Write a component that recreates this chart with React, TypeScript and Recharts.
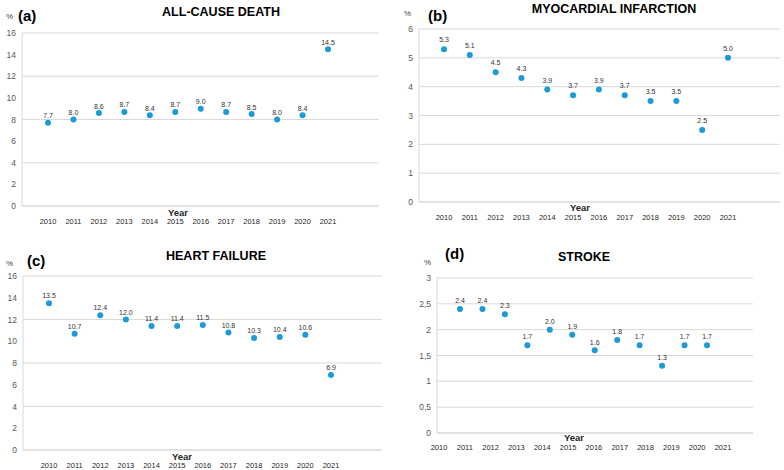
import React from 'react';
import { ScatterChart, Scatter, XAxis, YAxis, CartesianGrid, LabelList } from 'recharts';

// data
const years = [2010, 2011, 2012, 2013, 2014, 2015, 2016, 2017, 2018, 2019, 2020, 2021];
const deathVals = [7.7, 8.0, 8.6, 8.7, 8.4, 8.7, 9.0, 8.7, 8.5, 8.0, 8.4, 14.5];
const miVals = [5.3, 5.1, 4.5, 4.3, 3.9, 3.7, 3.9, 3.7, 3.5, 3.5, 2.5, 5.0];
const hfVals = [13.5, 10.7, 12.4, 12.0, 11.4, 11.4, 11.5, 10.8, 10.3, 10.4, 10.6, 6.9];
const strokeVals = [2.4, 2.4, 2.3, 1.7, 2.0, 1.9, 1.6, 1.8, 1.7, 1.3, 1.7, 1.7];

const ticks16 = [0, 2, 4, 6, 8, 10, 12, 14, 16];
const ticks6 = [0, 1, 2, 3, 4, 5, 6];
const ticks3 = [0, 0.5, 1, 1.5, 2, 2.5, 3];

const DOT = '#1a9ad7';
const GRID = '#d9d9d9';
const FONT = '"Liberation Sans", Arial, sans-serif';

const toRows = (vals: number[]) => years.map((y, i) => ({ year: y, v: vals[i] }));

interface PanelProps {
  ox: number;
  oy: number;
  vals: number[];
  title: string;
  letter: string;
  yMax: number;
  yTicks: number[];
  comma?: boolean;
  plot: { l: number; r: number; t: number; b: number };
  pad: { left: number; right: number };
  tickPad?: { left: number; right: number };
  tickMargin: number;
  labelDy: number;
  titlePos: [number, number];
  letterPos: [number, number];
  pctPos: [number, number];
  yearPos: [number, number];
}

const Dot = (props: any) => <circle cx={props.cx} cy={props.cy} r={3} fill={DOT} />;

const Panel: React.FC<PanelProps> = (p) => {
  const W = 392;
  const H = 235;
  const split = !!p.tickPad;
  const rows = toRows(p.vals);

  const valueLabel = (lp: any) => {
    const cx = lp.x + lp.width / 2;
    const cy = lp.y + lp.height / 2;
    return (
      <text x={cx} y={cy - p.labelDy} textAnchor="middle" dominantBaseline="central"
        fontSize={7} fill="#333" fontFamily={FONT}>
        {Number(lp.value).toFixed(1)}
      </text>
    );
  };

  return (
    <div style={{ position: 'absolute', left: p.ox, top: p.oy, width: W, height: H }}>
      <ScatterChart
        width={W}
        height={H}
        margin={{ top: p.plot.t, right: W - p.plot.r, bottom: 0, left: 0 }}
      >
        <CartesianGrid vertical={false} stroke={GRID} />
        {split ? (
          <XAxis xAxisId="pts" dataKey="year" type="number" domain={[2010, 2021]} padding={p.pad} height={0} hide />
        ) : null}
        <XAxis
          xAxisId={split ? 'yrs' : 'pts'}
          dataKey="year"
          type="number"
          domain={[2010, 2021]}
          ticks={years}
          interval={0}
          padding={split ? p.tickPad : p.pad}
          height={H - p.plot.b}
          axisLine={{ stroke: GRID }}
          tickLine={false}
          tickSize={0}
          tickMargin={p.tickMargin}
          tick={{ fontSize: 7.5, fill: '#262626', fontFamily: FONT }}
        />
        <YAxis
          dataKey="v"
          type="number"
          domain={[0, p.yMax]}
          ticks={p.yTicks}
          width={p.plot.l}
          axisLine={{ stroke: GRID }}
          tickLine={false}
          tickSize={0}
          tickMargin={6}
          tick={{ fontSize: 8.5, fill: '#595959', fontFamily: FONT }}
          tickFormatter={(v: number) => (p.comma ? String(v).replace('.', ',') : String(v))}
        />
        <Scatter data={rows} xAxisId="pts" fill={DOT} shape={Dot} isAnimationActive={false}>
          <LabelList dataKey="v" content={valueLabel} />
        </Scatter>
        {split ? (
          <Scatter data={rows} xAxisId="yrs" fill="none" shape={() => <g />} isAnimationActive={false} />
        ) : null}
      </ScatterChart>
      <div style={{ position: 'absolute', left: p.titlePos[0], top: p.titlePos[1], transform: 'translate(-50%,-50%)', fontFamily: FONT, fontWeight: 'bold', fontSize: 12.5, whiteSpace: 'nowrap', color: '#000' }}>{p.title}</div>
      <div style={{ position: 'absolute', left: p.letterPos[0], top: p.letterPos[1], transform: 'translateY(-50%)', fontFamily: FONT, fontWeight: 'bold', fontSize: 15, color: '#000' }}>{p.letter}</div>
      <div style={{ position: 'absolute', left: p.pctPos[0], top: p.pctPos[1], transform: 'translateY(-50%)', fontFamily: FONT, fontSize: 8, color: '#404040' }}>%</div>
      <div style={{ position: 'absolute', left: p.yearPos[0], top: p.yearPos[1], transform: 'translate(-50%,-50%)', fontFamily: FONT, fontWeight: 'bold', fontSize: 9.5, color: '#262626' }}>Year</div>
    </div>
  );
};

export default function App() {
  return (
    <div style={{ position: 'fixed', left: 0, top: 0, width: 784, height: 470, background: '#fff', overflow: 'hidden' }}>
      <Panel
        ox={0} oy={0} vals={deathVals} title="ALL-CAUSE DEATH" letter="(a)" yMax={16} yTicks={ticks16}
        plot={{ l: 22, r: 379, t: 33, b: 206 }} pad={{ left: 26, right: 51 }} tickMargin={13} labelDy={7}
        titlePos={[221, 12]} letterPos={[18, 15]} pctPos={[6, 16]} yearPos={[178, 212]}
      />
      <Panel
        ox={392} oy={0} vals={miVals} title="MYOCARDIAL INFARCTION" letter="(b)" yMax={6} yTicks={ticks6}
        plot={{ l: 27, r: 388, t: 29, b: 202 }} pad={{ left: 25, right: 52 }} tickMargin={13} labelDy={9.5}
        titlePos={[222, 9]} letterPos={[36, 15]} pctPos={[12, 13]} yearPos={[188, 207]}
      />
      <Panel
        ox={0} oy={235} vals={hfVals} title="HEART FAILURE" letter="(c)" yMax={16} yTicks={ticks16}
        plot={{ l: 23, r: 382, t: 41, b: 215 }} pad={{ left: 26, right: 51 }} tickMargin={13} labelDy={7.3}
        titlePos={[216, 21]} letterPos={[27, 25]} pctPos={[6, 28]} yearPos={[182, 221]}
      />
      <Panel
        ox={392} oy={235} vals={strokeVals} title="STROKE" letter="(d)" yMax={3} yTicks={ticks3} comma
        plot={{ l: 45, r: 361, t: 43, b: 198 }} pad={{ left: 23, right: 46 }} tickPad={{ left: 2, right: 30 }}
        tickMargin={11.5} labelDy={8.3}
        titlePos={[192, 22]} letterPos={[53, 18]} pctPos={[32, 27]} yearPos={[182, 202]}
      />
    </div>
  );
}
